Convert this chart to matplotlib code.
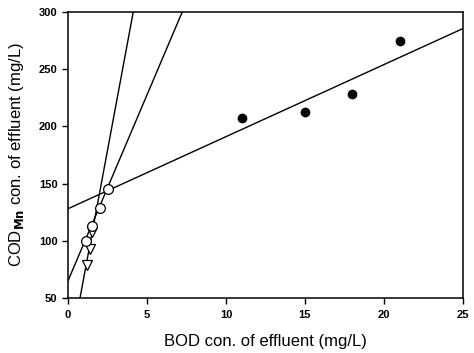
import matplotlib
matplotlib.use("Agg")
import matplotlib.pyplot as plt

plt.rcParams['font.family'] = ['Liberation Sans', 'DejaVu Sans']

# data
filled_x = [11, 15, 18, 21]
filled_y = [207, 213, 228, 275]
circle_x = [1.15, 1.55, 2.0, 2.5]
circle_y = [100, 113, 129, 145]
tri_x = [1.2, 1.4, 1.55]
tri_y = [79, 93, 108]
line_intercepts = [-6.4, 65, 128]
line_slopes = [74.2, 32.5, 6.3]
xticks = [0, 5, 10, 15, 20, 25]
yticks = [50, 100, 150, 200, 250, 300]

fig = plt.figure(figsize=(4.74, 3.53), dpi=100)
ax = fig.add_axes([0.1435, 0.156, 0.833, 0.81])

for b, m in zip(line_intercepts, line_slopes):
    ax.axline((0, b), slope=m, color='black', lw=1.0, zorder=1)

ax.plot(tri_x, tri_y, linestyle='none', marker='v', ms=6.5, mfc='white', mec='black', mew=0.9, zorder=3)
ax.plot(circle_x, circle_y, linestyle='none', marker='o', ms=7, mfc='white', mec='black', mew=0.9, zorder=4)
ax.plot(filled_x, filled_y, linestyle='none', marker='o', ms=6, mfc='black', mec='black', zorder=4)

ax.set_xlim(0, 25)
ax.set_ylim(50, 300)
ax.set_xticks(xticks)
ax.set_yticks(yticks)
ax.tick_params(direction='out', length=4, width=1, labelsize=8)
ax.tick_params(axis='x', pad=5)
for lab in ax.get_xticklabels() + ax.get_yticklabels():
    lab.set_fontweight('bold')
for s in ax.spines.values():
    s.set_linewidth(1.1)

ax.set_xlabel('BOD con. of effluent (mg/L)', fontsize=12, labelpad=10)
ax.set_ylabel(r'COD$_{\mathbf{Mn}}$ con. of effluent (mg/L)', fontsize=12, labelpad=9)

fig.savefig('out.png', dpi=100)
